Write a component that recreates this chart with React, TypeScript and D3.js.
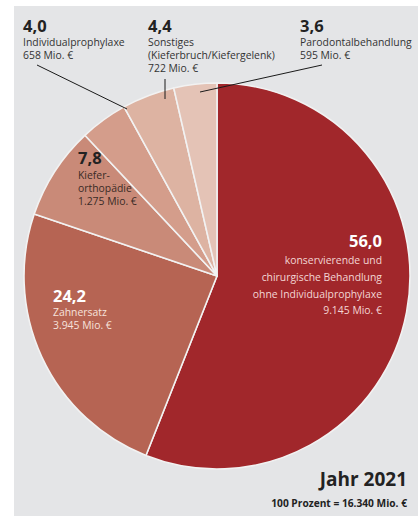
import React from "react";
import * as d3 from "d3";

const categories = [
  "konservierende und chirurgische Behandlung ohne Individualprophylaxe",
  "Zahnersatz",
  "Kieferorthopädie",
  "Individualprophylaxe",
  "Sonstiges (Kieferbruch/Kiefergelenk)",
  "Parodontalbehandlung",
];
const percents = [56.0, 24.2, 7.8, 4.0, 4.4, 3.6];
const millions = ["9.145", "3.945", "1.275", "658", "722", "595"];
const colors = ["#a1272b", "#b66453", "#c98a78", "#d49d8b", "#ddb3a2", "#e4c3b6"];
const title = "Jahr 2021";
const subtitle = "100 Prozent = 16.340 Mio. €";

const FONT = "'Open Sans', 'Noto Sans', sans-serif";
const fmt = (v: number) => v.toFixed(1).replace(".", ",");

export default function App() {
  const W = 418, H = 516;
  const cx = 217, cy = 276, r = 193;
  const pie = d3.pie<number>().sort(null).value((d) => d);
  const arcs = pie(percents);
  const arc = d3.arc<d3.PieArcDatum<number>>().innerRadius(0).outerRadius(r);

  const numStyle = { fontFamily: FONT, fontWeight: 700, fontSize: 16.5 } as const;
  const txtStyle = { fontFamily: FONT, fontSize: 10.4 } as const;

  return (
    <svg width={W} height={H} style={{ position: "absolute", left: 0, top: 0 }}>
      <rect x={0} y={0} width={W} height={H} fill="#ffffff" />
      <rect x={14} y={6} width={W - 14} height={H - 6} fill="#e4e5e7" />
      <g transform={`translate(${cx},${cy})`}>
        {arcs.map((a, i) => (
          <path key={i} d={arc(a) || ""} fill={colors[i]} stroke="#f2f2f2" strokeWidth={1.6} strokeLinejoin="round" />
        ))}
      </g>
      {/* leader lines */}
      <line x1={37} y1={65} x2={127} y2={109} stroke="#1a1a1a" strokeWidth={1} />
      <line x1={165} y1={79} x2={165} y2={99} stroke="#1a1a1a" strokeWidth={1} />
      <line x1={322} y1={65} x2={200} y2={92} stroke="#1a1a1a" strokeWidth={1} />

      {/* Individualprophylaxe */}
      <text x={23} y={32} fill="#222" style={numStyle}>{fmt(percents[3])}</text>
      <text x={23} y={46} fill="#333" style={txtStyle}>{categories[3]}</text>
      <text x={23} y={59} fill="#333" style={txtStyle}>{millions[3]} Mio. €</text>

      {/* Sonstiges */}
      <text x={148} y={32} fill="#222" style={numStyle}>{fmt(percents[4])}</text>
      <text x={148} y={46} fill="#333" style={txtStyle}>Sonstiges</text>
      <text x={148} y={59} fill="#333" style={txtStyle}>(Kieferbruch/Kiefergelenk)</text>
      <text x={148} y={72} fill="#333" style={txtStyle}>{millions[4]} Mio. €</text>

      {/* Parodontal */}
      <text x={300} y={32} fill="#222" style={numStyle}>{fmt(percents[5])}</text>
      <text x={300} y={46} fill="#333" style={txtStyle}>{categories[5]}</text>
      <text x={300} y={59} fill="#333" style={txtStyle}>{millions[5]} Mio. €</text>

      {/* Kieferorthopädie */}
      <text x={78} y={164} fill="#222" style={numStyle}>{fmt(percents[2])}</text>
      <text x={78} y={179} fill="#3a2a26" style={txtStyle}>Kiefer-</text>
      <text x={78} y={192} fill="#3a2a26" style={txtStyle}>orthopädie</text>
      <text x={78} y={205} fill="#3a2a26" style={txtStyle}>{millions[2]} Mio. €</text>

      {/* Zahnersatz */}
      <text x={53} y={302} fill="#ffffff" style={numStyle}>{fmt(percents[1])}</text>
      <text x={53} y={316} fill="#f6e2dc" style={txtStyle}>{categories[1]}</text>
      <text x={53} y={329} fill="#f6e2dc" style={txtStyle}>{millions[1]} Mio. €</text>

      {/* Main */}
      <g textAnchor="end">
        <text x={382} y={247} fill="#ffffff" style={numStyle}>{fmt(percents[0])}</text>
        <text x={382} y={264} fill="#f3d6d4" style={txtStyle}>konservierende und</text>
        <text x={382} y={281} fill="#f3d6d4" style={txtStyle}>chirurgische Behandlung</text>
        <text x={382} y={298} fill="#f3d6d4" style={txtStyle}>ohne Individualprophylaxe</text>
        <text x={382} y={314} fill="#f3d6d4" style={txtStyle}>{millions[0]} Mio. €</text>
        <text x={407} y={486} fill="#222" style={{ fontFamily: FONT, fontWeight: 700, fontSize: 19 }}>{title}</text>
        <text x={407} y={507} fill="#222" style={{ fontFamily: FONT, fontWeight: 700, fontSize: 10.2 }}>{subtitle}</text>
      </g>
    </svg>
  );
}
